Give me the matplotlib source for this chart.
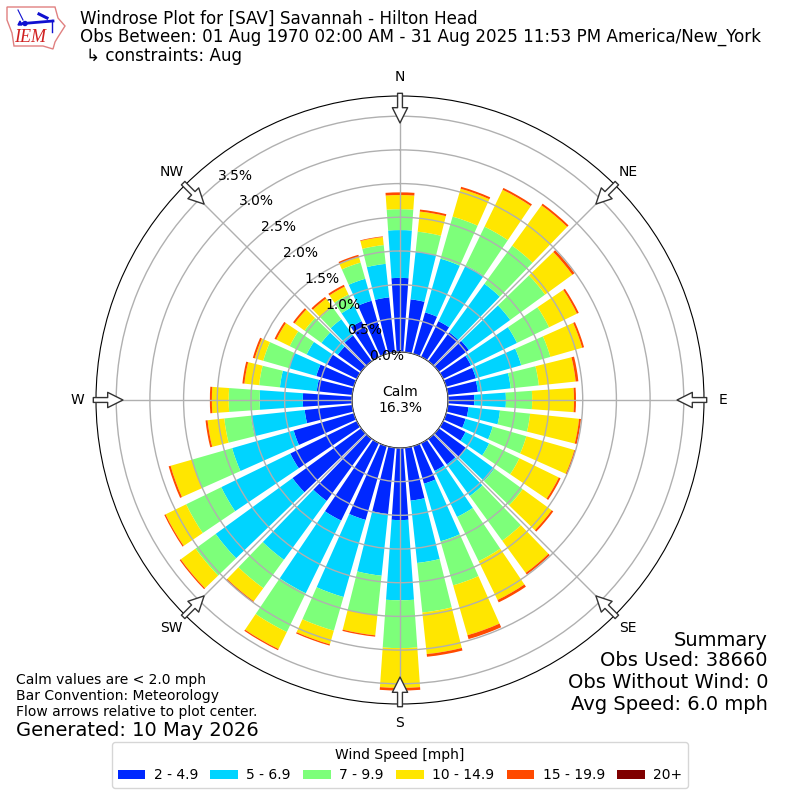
import numpy as np
import matplotlib
matplotlib.use("Agg")
import matplotlib.pyplot as plt
from matplotlib.patches import Polygon, Circle

directions = list(range(0, 360, 10))
speed_labels = ["2 - 4.9", "5 - 6.9", "7 - 9.9", "10 - 14.9", "15 - 19.9", "20+"]
colors = ["#0028ff", "#00d4ff", "#7dff7a", "#ffe600", "#ff4a00", "#7f0000"]
s2_5 = [1.10,.79,.64,.59,.53,.55,.46,.46,.45,.39,.31,.30,.37,.50,.47,.46,.58,.79,1.07,.99,1.14,1.28,1.14,1.26,1.10,.93,.71,.73,.53,.58,.49,.43,.47,.59,.82,.82]
s5_7 = [.71,.71,.83,.92,.89,.76,.76,.70,.49,.47,.47,.42,.39,.52,.58,.76,.89,.93,1.19,.92,1.19,1.20,1.08,1.41,1.14,.95,.80,.64,.55,.42,.34,.30,.30,.25,.34,.50]
s7_10 = [.31,.30,.65,.64,.70,.64,.53,.45,.42,.39,.45,.52,.50,.52,.82,.73,.68,.74,.71,.59,.52,.64,.52,.37,.58,.62,.40,.46,.31,.40,.28,.31,.22,.19,.25,.28]
s10_15 = [.21,.30,.43,.61,.74,.50,.46,.49,.55,.62,.73,.74,.65,.53,.59,.64,.77,.62,.59,.30,.21,.28,.24,.27,.34,.33,.25,.25,.22,.13,.22,.18,.16,.13,.09,.12]
s15_20 = [.04,.03,.03,.03,.03,.04,.03,.03,.04,.03,.03,.02,.03,.03,.03,.04,.06,.04,.04,.02,.02,.02,.02,.02,.02,.03,.03,.03,.03,.03,.03,.03,.03,.03,.03,.01]
s20 = [0.0] * 36
series = [s2_5, s5_7, s7_10, s10_15, s15_20, s20]
r_ticks = [0.0, 0.5, 1.0, 1.5, 2.0, 2.5, 3.0, 3.5]
compass = ["N", "NE", "E", "SE", "S", "SW", "W", "NW"]

fig = plt.figure(figsize=(8, 8), dpi=100)
ax = fig.add_axes([96/800, 96/800, 608/800, 608/800], projection="polar")
ax.set_theta_zero_location("N")
ax.set_theta_direction(-1)
theta = np.deg2rad(directions)
bottom = np.zeros(36)
for vals, col, lab in zip(series, colors, speed_labels):
    ax.bar(theta, vals, width=np.deg2rad(8.0), bottom=bottom, color=col, label=lab, linewidth=0, zorder=2)
    bottom = bottom + np.array(vals)
ax.set_rlim(0, 3.8)
ax.set_rorigin(-0.712)
ax.set_yticks(r_ticks)
ax.set_yticklabels([f"{v:.1f}%" for v in r_ticks], fontsize=10, zorder=6)
ax.set_rlabel_position(320)
ax.set_thetagrids(range(0, 360, 45), compass, fontsize=10)
ax.tick_params(axis="x", pad=3)
ax.grid(True, color="#b0b0b0", linewidth=1, zorder=3)
ax.set_axisbelow(False)

for a in range(0, 360, 45):
    ax.annotate("", xy=(np.deg2rad(a), 3.4), xytext=(np.deg2rad(a), 3.84),
                arrowprops=dict(facecolor="white", edgecolor="#333333", width=3.5, headwidth=11,
                                headlength=11, linewidth=1, shrink=0), annotation_clip=False, zorder=7)

fig.text(0.5, 0.5, "Calm\n16.3%", ha="center", va="center", fontsize=10)

fig.text(80/800, 1-19/800, "Windrose Plot for [SAV] Savannah - Hilton Head", fontsize=12.05, va="center")
fig.text(80/800, 1-37/800, "Obs Between: 01 Aug 1970 02:00 AM - 31 Aug 2025 11:53 PM America/New_York", fontsize=12.05, va="center")
fig.text(86/800, 1-56/800, "↳ constraints: Aug", fontsize=12.05, va="center")

for y, s in zip([640, 661, 683, 705], ["Summary", "Obs Used: 38660", "Obs Without Wind: 0", "Avg Speed: 6.0 mph"]):
    fig.text(768/800, 1-y/800, s, fontsize=14, ha="right", va="center")
for y, s in zip([680, 696, 712], ["Calm values are < 2.0 mph", "Bar Convention: Meteorology", "Flow arrows relative to plot center."]):
    fig.text(16/800, 1-y/800, s, fontsize=10, va="center")
fig.text(16/800, 1-730/800, "Generated: 10 May 2026", fontsize=14, va="center")

handles, labels = ax.get_legend_handles_labels()
fig.legend(handles, labels, title="Wind Speed [mph]", ncol=6, loc="center",
           bbox_to_anchor=(0.5, 1-765/800), fontsize=10, title_fontsize=10,
           columnspacing=0.88, handletextpad=0.6)

logo = fig.add_axes([0, 1-60/800, 70/800, 60/800])
logo.set_xlim(0, 70)
logo.set_ylim(60, 0)
logo.axis("off")
logo.add_patch(Polygon([(7,7),(55,7),(58,18),(65,26),(58,37),(55,42),(53,49),(43,46),(14,46),(12,33),(7,20)],
                       closed=True, facecolor="none", edgecolor="#e08080", linewidth=1))
logo.plot([23, 53], [23.5, 21], color="#1010d0", lw=2)
logo.plot([18, 23], [10, 20], color="#1010d0", lw=0.8)
logo.plot([39, 47], [14, 18], color="#1010d0", lw=2.2)
logo.plot([52, 52], [20, 32], color="#1010d0", lw=1)
logo.add_patch(Circle((25, 23.5), 2, color="#1010d0"))
logo.add_patch(Polygon([(18,25),(20,21),(22,25)], closed=True, color="#1010d0"))
logo.text(30, 38, "IEM", color="#d02020", fontsize=13, style="italic", family="Liberation Serif", ha="center", va="center")

fig.savefig("out.png", dpi=100)
